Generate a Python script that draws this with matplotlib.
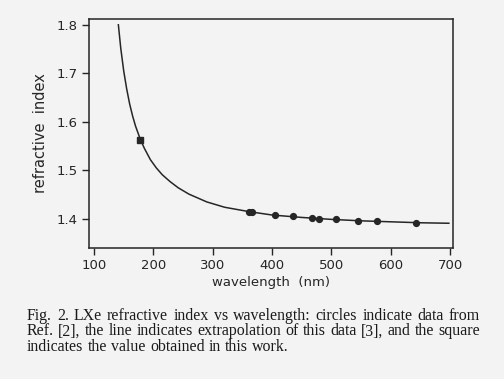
import numpy as np
import matplotlib
matplotlib.use("Agg")
import matplotlib.pyplot as plt

# extrapolation curve
curve_wl = [141, 145, 150, 155, 160, 165, 170, 178, 185, 195, 205, 215, 228,
            242, 260, 290, 320, 361, 400, 450, 500, 550, 600, 650, 698]
curve_n = [1.800, 1.752, 1.705, 1.668, 1.637, 1.612, 1.591, 1.564, 1.545,
           1.522, 1.505, 1.491, 1.477, 1.464, 1.451, 1.435, 1.424, 1.415,
           1.408, 1.403, 1.399, 1.396, 1.394, 1.392, 1.391]

# circles: data from Ref. [2]
ref_wl = [361, 366, 405, 435, 468, 479, 507, 545, 577, 643]
ref_n = [1.415, 1.414, 1.408, 1.405, 1.401, 1.400, 1.399, 1.396, 1.395, 1.392]

# square: this work
meas_wl = [178]
meas_n = [1.562]

xticks = [100, 200, 300, 400, 500, 600, 700]
yticks = [1.4, 1.5, 1.6, 1.7, 1.8]

caption = [
    "Fig. 2. LXe refractive index vs wavelength: circles indicate data from",
    "Ref. [2], the line indicates extrapolation of this data [3], and the square",
    "indicates the value obtained in this work.",
]

paper = "#f3f3f3"
ink = "#262626"

fig = plt.figure(figsize=(5.04, 3.79), dpi=100, facecolor=paper)
ax = fig.add_axes([89 / 504, 1 - 248 / 379, (453 - 89) / 504, (248 - 19) / 379])
ax.set_facecolor(paper)

ax.plot(curve_wl, curve_n, color=ink, lw=1.1)
ax.plot(ref_wl, ref_n, "o", color=ink, ms=4.2)
ax.plot(meas_wl, meas_n, "s", color=ink, ms=4.5)

ax.set_xlim(91.5, 705)
ax.set_ylim(1.34, 1.812)
ax.set_xticks(xticks)
ax.set_yticks(yticks)
ax.set_yticklabels([f"{v:.1f}" for v in yticks])

for s in ax.spines.values():
    s.set_color(ink)
    s.set_linewidth(1.1)
ax.tick_params(colors=ink, labelsize=9.5, length=5, width=1, direction="out")
ax.tick_params(axis="x", pad=3)

ax.set_xlabel("wavelength  (nm)", fontsize=9.5, color=ink, labelpad=3)
ax.set_ylabel("refractive  index", fontsize=10.5, color=ink, labelpad=6)

# caption, justified between x=27 and x=480 px (last line left aligned)
renderer = fig.canvas.get_renderer()
left, right = 27 / 504, 480 / 504
for i, line in enumerate(caption):
    y = 1 - (316 + 15.3 * i) / 379
    words = line.split(" ")
    texts = [fig.text(0, y, w, family="Liberation Serif", fontsize=11.4,
                      color="#1a1a1a", va="center", ha="left") for w in words]
    widths = [t.get_window_extent(renderer).width / fig.bbox.width for t in texts]
    if i < len(caption) - 1:
        gap = (right - left - sum(widths)) / (len(words) - 1)
    else:
        gap = 4.2 / 504
    x = left
    for t, w in zip(texts, widths):
        t.set_x(x)
        x += w + gap

fig.savefig("out.png", dpi=100, facecolor=paper)
